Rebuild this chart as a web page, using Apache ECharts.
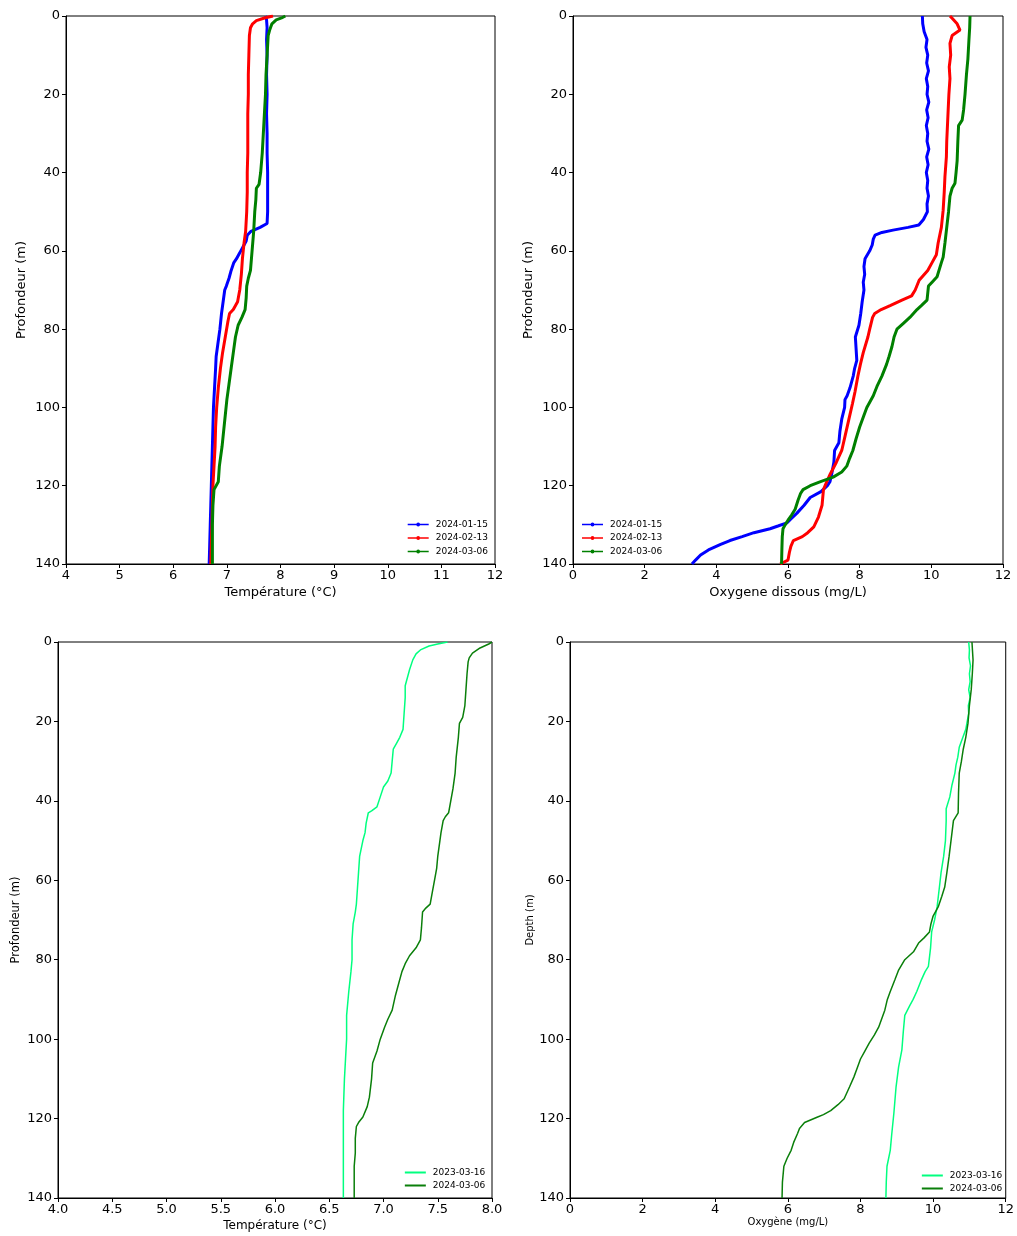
<!DOCTYPE html>
<html><head><meta charset="utf-8">
<script src="https://cdn.jsdelivr.net/npm/echarts@6/dist/echarts.min.js"></script>
<style>html,body{margin:0;padding:0;background:#fff}#c{width:1017px;height:1236px}</style>
</head><body><div id="c"></div>
<script>
// ---- DATA: [value, depth] pairs ----
const tempJan = [[7.72,0],[7.74,1],[7.75,3],[7.74,6],[7.75,10],[7.74,15],[7.75,20],[7.74,25],[7.75,30],[7.75,35],[7.76,40],[7.76,45],[7.76,50],[7.75,53],[7.62,54],[7.45,55],[7.38,56],[7.36,57.5],[7.30,59],[7.26,60],[7.22,61],[7.18,62],[7.13,63],[7.08,65],[7.04,67],[6.99,69],[6.96,70],[6.93,73],[6.90,76],[6.87,80],[6.83,84],[6.80,87],[6.79,90],[6.77,95],[6.75,100],[6.74,105],[6.73,110],[6.72,115],[6.71,120],[6.70,125],[6.69,130],[6.68,135],[6.67,140]];
const tempFeb = [[7.86,0],[7.70,0.5],[7.55,1.2],[7.48,2],[7.44,3],[7.42,5],[7.41,10],[7.40,15],[7.40,20],[7.39,25],[7.39,30],[7.39,35],[7.38,40],[7.38,45],[7.37,50],[7.35,55],[7.32,58],[7.29,62],[7.27,66],[7.24,70],[7.20,73],[7.12,75],[7.05,76],[7.02,78],[6.97,82],[6.92,86],[6.88,90],[6.84,95],[6.81,100],[6.79,105],[6.78,110],[6.76,115],[6.74,120],[6.73,125],[6.72,130],[6.71,135],[6.70,140]];
const tempMar = [[8.09,0],[8.02,0.5],[7.92,1],[7.84,2],[7.80,3.5],[7.77,5],[7.75,10],[7.73,15],[7.72,20],[7.70,25],[7.68,30],[7.66,35],[7.63,40],[7.60,43],[7.55,44],[7.54,47],[7.52,50],[7.50,55],[7.47,60],[7.44,65],[7.40,67],[7.37,69],[7.36,72],[7.34,75],[7.28,77],[7.21,79],[7.16,82],[7.12,86],[7.08,90],[7.04,94],[7.00,98],[6.97,102],[6.94,106],[6.91,110],[6.86,115],[6.84,119],[6.76,121],[6.74,125],[6.73,130],[6.73,135],[6.73,140]];

const oxyJan = [[9.75,0],[9.76,2],[9.80,4],[9.88,6],[9.85,8],[9.90,10],[9.87,12],[9.92,14],[9.86,16],[9.90,18],[9.88,20],[9.93,22],[9.87,24],[9.91,26],[9.86,28],[9.90,30],[9.88,32],[9.93,34],[9.87,36],[9.91,38],[9.86,40],[9.90,42],[9.88,44],[9.92,46],[9.88,48],[9.89,50],[9.78,52],[9.65,53.4],[9.35,54],[8.93,54.7],[8.62,55.3],[8.43,56],[8.38,57],[8.35,58.5],[8.28,60],[8.15,62],[8.12,64],[8.14,66],[8.10,68],[8.12,70],[8.07,73],[8.03,76],[7.98,79],[7.88,82],[7.90,85],[7.92,88],[7.86,90],[7.82,92],[7.73,95],[7.65,97],[7.59,98],[7.58,100],[7.50,103],[7.45,106],[7.42,109],[7.30,111],[7.28,114],[7.22,117],[7.17,119],[7.10,120],[6.92,121.5],[6.62,123],[6.45,125],[6.25,127],[6.08,128.5],[5.97,129.5],[5.72,130.3],[5.50,131],[5.05,132],[4.72,133],[4.38,134],[4.12,135],[3.78,136.4],[3.56,137.7],[3.42,139],[3.32,140]];
const oxyFeb = [[10.52,0],[10.58,0.6],[10.72,2],[10.80,3.6],[10.58,5],[10.52,7],[10.54,10],[10.50,13],[10.52,16],[10.49,20],[10.47,24],[10.45,28],[10.43,32],[10.42,36],[10.38,41],[10.36,45],[10.33,49.6],[10.28,54],[10.19,58],[10.14,61],[10.02,63],[9.90,65],[9.66,67.5],[9.55,70],[9.45,71.5],[9.18,72.6],[8.85,74],[8.60,75],[8.42,76],[8.36,77],[8.28,80],[8.23,82],[8.10,86],[8.02,89],[7.95,92],[7.87,96],[7.80,99],[7.70,103],[7.60,107],[7.50,111],[7.35,114],[7.18,117],[7.08,119],[6.99,121],[6.97,123],[6.95,125],[6.85,128],[6.72,130.5],[6.55,132],[6.40,133],[6.15,134],[6.08,135.5],[6.04,137],[6.00,139],[5.78,140]];
const oxyMar = [[11.08,0],[11.07,3],[11.05,6],[11.02,11],[10.98,15],[10.94,20],[10.90,24],[10.86,26.6],[10.76,28],[10.74,32],[10.72,37],[10.69,40],[10.66,42.7],[10.58,44],[10.52,46],[10.48,50],[10.43,54],[10.38,58],[10.33,61.6],[10.28,63],[10.16,66.6],[10.02,68],[9.92,69],[9.88,72.6],[9.72,74],[9.60,75],[9.40,77],[9.22,78.5],[9.04,80],[8.96,82],[8.90,84.5],[8.82,87],[8.75,89],[8.62,92],[8.48,94.7],[8.38,97],[8.20,100],[8.12,102],[8.00,105],[7.90,108],[7.81,111],[7.72,113],[7.64,115],[7.50,116.5],[7.26,117.8],[6.89,119],[6.62,120],[6.42,121],[6.35,122],[6.28,123.7],[6.20,126],[6.10,127.5],[6.00,128.8],[5.92,130],[5.86,131],[5.84,133],[5.83,136],[5.82,140]];

const temp2023 = [[7.59,0],[7.50,0.5],[7.42,1],[7.34,2],[7.30,3],[7.27,4.5],[7.24,7],[7.22,9],[7.20,11],[7.20,14],[7.19,18],[7.18,22],[7.15,24],[7.12,25.5],[7.09,27],[7.08,30],[7.07,33],[7.04,35],[7.00,36.5],[6.97,39],[6.94,41.5],[6.89,42.5],[6.86,43],[6.84,45.6],[6.83,48],[6.81,50],[6.78,54],[6.77,58],[6.76,62],[6.75,66],[6.74,68],[6.72,71],[6.71,75],[6.71,80],[6.70,83],[6.68,88],[6.66,94],[6.66,100],[6.65,105],[6.64,110],[6.63,118],[6.63,125],[6.63,132],[6.63,140]];
const temp2024 = [[8.00,0],[7.97,0.5],[7.89,1.5],[7.82,2.8],[7.79,4],[7.78,5],[7.77,8],[7.76,12],[7.75,16],[7.73,19],[7.70,20.5],[7.69,24],[7.67,29],[7.66,33],[7.64,37],[7.62,40],[7.60,43],[7.57,44],[7.55,45],[7.53,48],[7.52,50],[7.50,54],[7.49,57],[7.47,60],[7.45,63],[7.43,66],[7.39,67],[7.36,68],[7.35,72],[7.34,75],[7.30,77],[7.24,79],[7.20,81],[7.17,83],[7.14,86],[7.11,89],[7.08,92.7],[7.04,95],[7.01,97],[6.97,100],[6.94,103],[6.90,106],[6.89,110],[6.87,114.6],[6.85,117],[6.81,119.6],[6.77,121],[6.75,122],[6.74,125],[6.74,128.7],[6.73,132],[6.73,136],[6.73,140]];
const oxy2023 = [[10.98,0],[11.00,2],[10.99,4],[11.03,6],[11.00,8],[11.02,10],[10.98,12],[11.02,14],[10.97,16],[10.98,18],[10.93,20.5],[10.90,22],[10.82,24],[10.72,26.5],[10.68,29],[10.63,31],[10.60,33],[10.52,36],[10.46,39],[10.36,42],[10.36,45],[10.34,50],[10.29,54],[10.22,58],[10.17,62],[10.11,66.7],[10.04,70],[9.96,73],[9.93,77],[9.87,81.7],[9.78,83],[9.68,85],[9.55,88],[9.45,90],[9.36,91.5],[9.22,94],[9.18,98],[9.14,102.7],[9.05,107],[8.98,112],[8.92,118.6],[8.86,124],[8.82,128],[8.73,132],[8.71,136],[8.70,140]];
const oxy2024 = [[11.07,0],[11.10,4.5],[11.08,8],[11.05,12],[11.00,16],[10.96,20.5],[10.90,24],[10.83,27],[10.78,30],[10.72,33],[10.70,38],[10.69,43],[10.56,45],[10.52,48],[10.44,54],[10.38,58],[10.32,61.7],[10.24,64],[10.14,66.7],[10.00,69],[9.94,71],[9.90,73],[9.75,74.5],[9.60,75.8],[9.46,78],[9.22,80],[9.05,82.6],[8.95,85],[8.82,88],[8.74,90],[8.67,92.7],[8.58,95],[8.50,97],[8.38,99],[8.24,101],[8.12,103],[8.00,105],[7.92,107],[7.82,109.5],[7.70,112],[7.55,115],[7.38,116.5],[7.18,118],[6.98,119],[6.82,119.6],[6.46,121],[6.32,122.5],[6.27,123.7],[6.16,126],[6.09,128],[5.98,130],[5.89,132],[5.85,136],[5.84,140]];

const namesTop = ['2024-01-15','2024-02-13','2024-03-06'];
const namesBottom = ['2023-03-16','2024-03-06 '];
const depthTicks = {min:0, max:140, interval:20};

// ---- CHART ----
const font = 'DejaVu Sans';
const iconDot = 'path://M0,3.2h20v1.6h-20zM8.2,4a1.8,1.8 0 1,1 3.6,0a1.8,1.8 0 1,1 -3.6,0z';
function xAx(idx, min, max, interval, name, nameSize, dec){
  return {gridIndex:idx, type:'value', min, max, interval, position:'bottom',
    name, nameLocation:'middle', nameGap: nameSize>11?22:19,
    nameTextStyle:{fontFamily:font, fontSize:nameSize, color:'#000'},
    axisLine:{show:true, onZero:false, lineStyle:{color:'#000', width:1}},
    axisTick:{show:true, length:4, lineStyle:{color:'#000'}},
    axisLabel:{fontFamily:font, fontSize:13, color:'#000', margin:5,
      formatter: v => dec ? v.toFixed(1) : String(v)},
    splitLine:{show:false}};
}
function yAx(idx, name, nameSize, gap){
  return {gridIndex:idx, type:'value', inverse:true, min:depthTicks.min, max:depthTicks.max, interval:depthTicks.interval,
    name, nameLocation:'middle', nameGap:gap,
    nameTextStyle:{fontFamily:font, fontSize:nameSize, color:'#000'},
    axisLine:{show:true, onZero:false, lineStyle:{color:'#000', width:1}},
    axisTick:{show:true, length:4, lineStyle:{color:'#000'}},
    axisLabel:{fontFamily:font, fontSize:13, color:'#000', margin:6},
    splitLine:{show:false}};
}
function ser(name, data, color, idx, width){
  return {type:'line', name, data, xAxisIndex:idx, yAxisIndex:idx,
    showSymbol:false, symbol:'none',
    lineStyle:{color, width}, itemStyle:{color}, animation:false, clip:true};
}
const gridBase = {show:true, borderColor:'#000', borderWidth:1, backgroundColor:'transparent'};
const legendTop = {orient:'vertical', itemWidth:21, itemHeight:4, itemGap:4.5, icon:iconDot,
  textStyle:{fontFamily:font, fontSize:9, color:'#000', padding:[0,0,0,2]}};
const legendBottom = {orient:'vertical', itemWidth:21, itemHeight:2, itemGap:4, icon:'rect',
  textStyle:{fontFamily:font, fontSize:9, color:'#000', padding:[0,0,0,2]}};

const option = {
  backgroundColor:'#fff', animation:false,
  grid:[
    Object.assign({left:66, top:16, width:429, height:548}, gridBase),
    Object.assign({left:573, top:16, width:430, height:548}, gridBase),
    Object.assign({left:58, top:642, width:434, height:556}, gridBase),
    Object.assign({left:570, top:642, width:440, height:556}, gridBase)
  ],
  xAxis:[
    xAx(0, 4, 12, 1, 'Température (°C)', 13, false),
    xAx(1, 0, 12, 2, 'Oxygene dissous (mg/L)', 13, false),
    xAx(2, 4, 8, 0.5, 'Température (°C)', 12, true),
    xAx(3, 0, 12, 2, 'Oxygène (mg/L)', 10, false)
  ],
  yAxis:[
    yAx(0, 'Profondeur (m)', 13, 38),
    yAx(1, 'Profondeur (m)', 13, 38),
    yAx(2, 'Profondeur (m)', 11.5, 36),
    yAx(3, 'Depth (m)', 10, 35)
  ],
  legend:[
    Object.assign({data:namesTop, right:524, bottom:675}, legendTop),
    Object.assign({data:namesTop, left:577, bottom:675}, legendTop),
    Object.assign({data:namesBottom, right:524, bottom:41}, legendBottom),
    Object.assign({data:namesBottom, right:7, bottom:38}, legendBottom)
  ],
  series:[
    ser(namesTop[0], tempJan, '#0000ff', 0, 3),
    ser(namesTop[1], tempFeb, '#ff0000', 0, 3),
    ser(namesTop[2], tempMar, '#008000', 0, 3),
    ser(namesTop[0], oxyJan, '#0000ff', 1, 3),
    ser(namesTop[1], oxyFeb, '#ff0000', 1, 3),
    ser(namesTop[2], oxyMar, '#008000', 1, 3),
    ser(namesBottom[0], temp2023, '#00ff7f', 2, 1.5),
    ser(namesBottom[1], temp2024, '#0a7f0a', 2, 1.5),
    ser(namesBottom[0], oxy2023, '#00ff7f', 3, 1.5),
    ser(namesBottom[1], oxy2024, '#0a7f0a', 3, 1.5)
  ]
};
const chart = echarts.init(document.getElementById('c'), null, {renderer:'canvas'});
chart.setOption(option);
</script></body></html>
